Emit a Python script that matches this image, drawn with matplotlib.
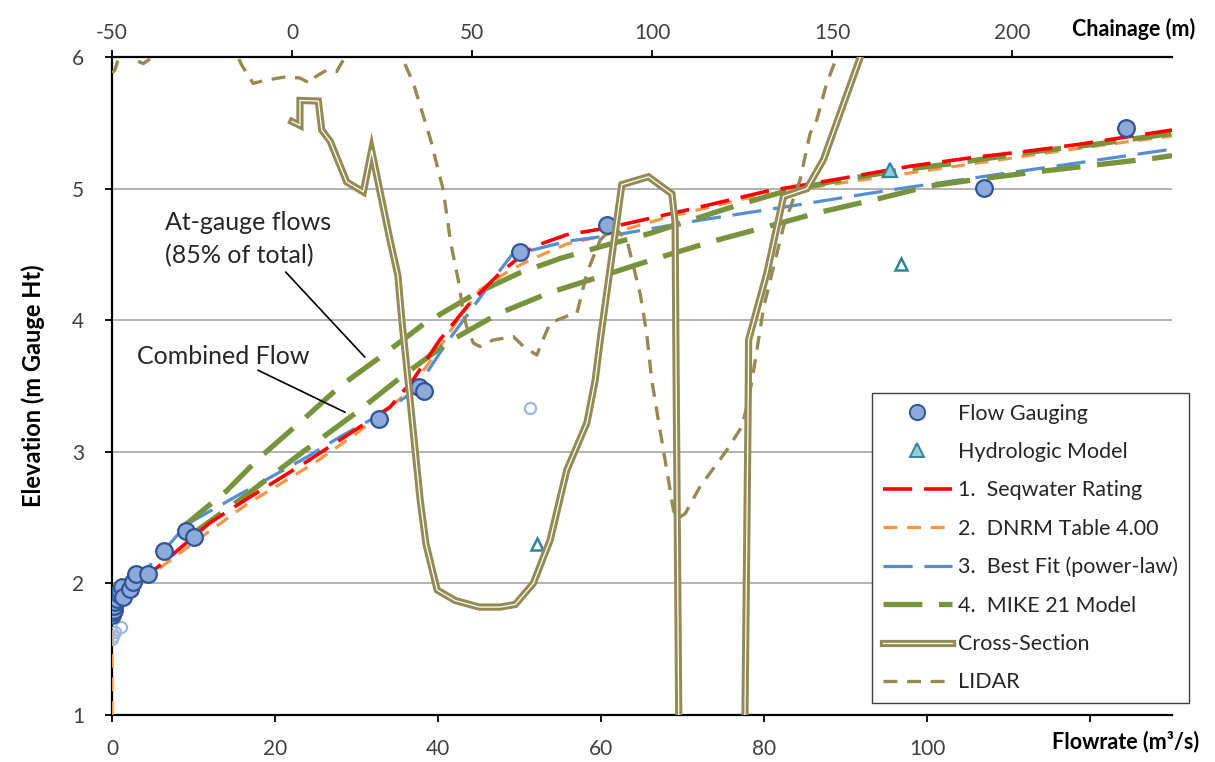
import matplotlib
matplotlib.use('Agg')
import matplotlib.pyplot as plt
from matplotlib.lines import Line2D

plt.rcParams['font.family'] = ['Lato', 'DejaVu Sans']
plt.rcParams['lines.scale_dashes'] = False
plt.rcParams['axes.unicode_minus'] = False

# ---------------- data ----------------
# Flow gauging (filled)
gauge_flow = [0.05, 0.1, 0.2, 0.3, 0.4, 0.6, 0.8, 1.0, 1.2, 1.4, 2.2, 2.6, 2.9, 4.45, 6.4, 9.1, 10.1,
              32.8, 37.6, 38.3, 50.0, 60.7, 107.0, 124.4]
gauge_elev = [1.76, 1.78, 1.80, 1.83, 1.86, 1.88, 1.92, 1.94, 1.97, 1.90, 1.96, 2.01, 2.07, 2.07, 2.25, 2.40, 2.355,
              3.25, 3.495, 3.465, 4.52, 4.72, 5.007, 5.46]
# Flow gauging (excluded / hollow)
gauge_x_flow = [0.05, 0.1, 0.37, 1.07, 51.3]
gauge_x_elev = [1.575, 1.60, 1.63, 1.665, 3.335]
# Hydrologic model
hydro_flow = [95.4]
hydro_elev = [5.14]
hydro2_flow = [96.8, 52.1]
hydro2_elev = [4.425, 2.30]

# 1. Seqwater rating
seq_flow = [0.5, 1, 3, 6.7, 12, 16.5, 23.5, 29.2, 34.1, 36.9, 40.2, 43.9, 47.6, 50, 51.7, 55.8, 60.7,
            72.1, 80.3, 88.4, 97.9, 104.8, 113, 119, 125.2, 130]
seq_elev = [1.75, 1.86, 1.99, 2.18, 2.46, 2.64, 2.91, 3.14, 3.34, 3.545, 3.85, 4.13, 4.36, 4.48, 4.56, 4.65, 4.70,
            4.86, 4.98, 5.065, 5.17, 5.23, 5.29, 5.34, 5.40, 5.445]
# 2. DNRM table
dnrm_flow = [0, 0, 0.5, 2, 5.5, 10.8, 16.5, 24.7, 30, 36.1, 39.4, 42.7, 45.1, 48.8, 51.7, 55.8, 59.8,
             68, 78, 88, 98, 109, 119, 130]
dnrm_elev = [1.0, 1.55, 1.75, 1.92, 2.10, 2.345, 2.60, 2.91, 3.14, 3.44, 3.72, 4.03, 4.23, 4.38, 4.47, 4.58, 4.635,
             4.78, 4.93, 5.03, 5.12, 5.22, 5.31, 5.40]
# 3. Best fit
fit_flow = [0, 1, 2.5, 4.4, 6.5, 9.2, 14.9, 23.9, 28, 32.5, 36.1, 38.6, 41, 44.3, 47.6, 49.2, 51.7, 55.8,
            61.9, 72.1, 84, 92.5, 96.6, 108.9, 121.2, 130]
fit_elev = [1.72, 1.87, 1.99, 2.12, 2.26, 2.45, 2.65, 2.96, 3.115, 3.27, 3.42, 3.60, 3.825, 4.10, 4.38, 4.51, 4.535, 4.60,
            4.65, 4.76, 4.875, 4.96, 5.00, 5.11, 5.22, 5.30]
# 4. MIKE 21 - at-gauge flows
mike_a_flow = [8.5, 14, 18, 23.9, 28, 32.9, 38.2, 44.5, 50, 55, 60, 66, 72, 77, 82, 88, 96.6, 103, 113, 121, 130]
mike_a_elev = [2.42, 2.70, 2.95, 3.27, 3.50, 3.72, 3.97, 4.20, 4.36, 4.47, 4.56, 4.66, 4.78, 4.88, 4.97, 5.05, 5.14,
               5.19, 5.28, 5.34, 5.42]
# 4. MIKE 21 - combined flow
mike_c_flow = [9.5, 16, 23, 30, 35.7, 41.4, 47.4, 53.7, 59.8, 66.8, 73.7, 80.3, 86.8, 93.8, 100.3, 107.3,
               113.8, 120.7, 127.7, 130]
mike_c_elev = [2.36, 2.65, 2.98, 3.30, 3.58, 3.84, 4.05, 4.21, 4.33, 4.47, 4.60, 4.71, 4.82, 4.92, 5.02, 5.08,
               5.13, 5.18, 5.23, 5.25]

# Cross-section (chainage, elevation)
xs_ch = [0, 2.2, 2.2, 7.3, 8.25, 10.6, 15.2, 19.8, 22.1, 27.2, 29.4, 30.5, 32.8, 35.6, 37.2, 40.3, 45.3, 52,
         57.8, 62, 67, 71.7, 76.3, 81.9, 84.2, 85.6, 91.6, 99, 105.5, 106.4, 106.6, 107.4, 107.9,
         125.3, 125.8, 126.75, 126.8, 131.9, 136.5, 143, 147.6, 158.5]
xs_el = [5.51, 5.48, 5.67, 5.665, 5.445, 5.36, 5.05, 4.975, 5.29, 4.61, 4.34, 4.0, 3.39, 2.63, 2.3, 1.95, 1.87, 1.82,
         1.82, 1.84, 2.0, 2.33, 2.86, 3.22, 3.545, 3.85, 5.03, 5.09, 4.96, 4.74, 3.85, 1.0, 0.0,
         0.0, 1.0, 3.55, 3.85, 4.36, 4.94, 5.0, 5.22, 6.05]
# LIDAR (chainage, elevation)
lidar_ch = [-50, -49.2, -47.5, -45, -43, -41.3, -37.6, -35, -20, -14, -10.8, -7, -1.5, 2.2, 5, 5.9, 9.6, 12.4,
            14.7, 18, 28, 30.5, 33.7, 38.5, 42, 44, 46.2, 47.6, 48.5, 50.4, 52.2, 55.9, 61.5, 64.3, 68, 68.9,
            71.7, 76.3, 79.1, 81.9, 85.6, 89.3, 93, 96.7, 98.5, 99.9, 102.2, 104.1, 105.9, 106.9, 109.2, 113.3,
            120.7, 124.9, 126.75, 128.1, 131, 136.5, 141.1, 143.9, 145.7, 148.5, 151.3, 153]
lidar_el = [5.88, 5.90, 6.05, 6.05, 5.97, 5.95, 6.02, 6.1, 6.3, 5.94, 5.80, 5.825, 5.85, 5.84, 5.80, 5.84, 5.90, 5.89,
            6.0, 6.2, 6.2, 6.0, 5.80, 5.37, 4.99, 4.60, 4.30, 4.05, 3.95, 3.825, 3.80, 3.85, 3.875, 3.80, 3.735, 3.80,
            3.98, 4.03, 4.05, 4.36, 4.61, 4.71, 4.61, 4.20, 3.90, 3.545, 3.165, 2.86, 2.56, 2.49, 2.53, 2.735,
            3.01, 3.19, 3.39, 3.60, 4.10, 4.71, 5.065, 5.42, 5.52, 5.80, 6.0, 6.2]

flow_ticks = [0, 20, 40, 60, 80, 100, 120]
flow_ticklabels = ['0', '20', '40', '60', '80', '100', '']
chain_ticks = [-50, 0, 50, 100, 150, 200]
elev_ticks = [1, 2, 3, 4, 5, 6]

labels = ['Flow Gauging', 'Hydrologic Model', '1.  Seqwater Rating', '2.  DNRM Table 4.00',
          '3.  Best Fit (power-law)', '4.  MIKE 21 Model', 'Cross-Section', 'LIDAR']

# ---------------- styles ----------------
C_RED = '#FF0000'
C_ORANGE = '#F79646'
C_BLUE = '#558ED5'
C_GREEN = '#77933C'
C_OLIVE = '#948A54'
C_PT_FILL = '#8EAADB'
C_PT_EDGE = '#2F5597'
C_TRI_FILL = '#92CDDC'
C_TRI_EDGE = '#31859C'
TICK_FS = 15
TITLE_FS = 15.5

W, H = 1215, 762
fig = plt.figure(figsize=(W / 100, H / 100), dpi=100)
L, R, T, B = 112, 1172, 57, 715
ax = fig.add_axes([L / W, 1 - B / H, (R - L) / W, (B - T) / H])
ax.set_xlim(0, 130)
ax.set_ylim(1, 6)

ax.yaxis.grid(True, color='#A6A6A6', lw=1.2)
ax.set_axisbelow(True)

# rating curves
ax.plot(dnrm_flow, dnrm_elev, color=C_ORANGE, lw=2.3, dashes=(10, 7), zorder=3)
ax.plot(fit_flow, fit_elev, color=C_BLUE, lw=2.3, dashes=(21, 8.5), zorder=3)
ax.plot(mike_a_flow, mike_a_elev, color=C_GREEN, lw=3.8, dashes=(28, 12), zorder=3)
ax.plot(mike_c_flow, mike_c_elev, color=C_GREEN, lw=3.8, dashes=(28, 12), zorder=3)
ax.plot(seq_flow, seq_elev, color=C_RED, lw=2.6, dashes=(21, 8.5), zorder=3)

# points
ax.plot(gauge_x_flow, gauge_x_elev, ls='none', marker='o', ms=8, mfc='none', mec='#9DB7DE', mew=1.6, zorder=5)
ax.plot(gauge_flow, gauge_elev, ls='none', marker='o', ms=12, mfc=C_PT_FILL, mec=C_PT_EDGE, mew=1.6, zorder=5)
ax.plot(hydro_flow, hydro_elev, ls='none', marker='^', ms=10, mfc=C_TRI_FILL, mec=C_TRI_EDGE, mew=1.6, zorder=5)
ax.plot(hydro2_flow, hydro2_elev, ls='none', marker='^', ms=9, mfc='white', mec=C_TRI_EDGE, mew=1.8, zorder=5)

ax.set_xticks(flow_ticks)
ax.set_xticklabels(flow_ticklabels)
ax.set_yticks(elev_ticks)
ax.tick_params(axis='both', direction='out', length=5, width=1.3, labelsize=TICK_FS, colors='black',
               labelcolor='#404040')
ax.tick_params(axis='x', pad=12)
ax.tick_params(axis='y', pad=15)
for s in ['top', 'right']:
    ax.spines[s].set_visible(False)
for s in ['left', 'bottom']:
    ax.spines[s].set_linewidth(1.6)

# secondary (chainage) axis
ax2 = ax.twiny()
ax2.set_xlim(-50, 244.4)
ax2.set_ylim(1, 6)
ax2.plot(xs_ch, xs_el, color=C_OLIVE, lw=5.2, solid_joinstyle='miter', zorder=4)
ax2.plot(xs_ch, xs_el, color='white', lw=0.9, zorder=4.1)
ax2.plot(lidar_ch, lidar_el, color=C_OLIVE, lw=2.4, dashes=(10, 7), zorder=4)
ax2.set_xticks(chain_ticks)
ax2.tick_params(axis='x', direction='out', length=5, width=1.3, labelsize=TICK_FS, pad=5, labelcolor='#404040')
for s in ['left', 'right', 'bottom']:
    ax2.spines[s].set_visible(False)
ax2.spines['top'].set_linewidth(1.6)

# axis titles
fig.text(1126 / W, 1 - 742 / H, 'Flowrate (m³/s)', fontsize=TITLE_FS, fontweight='bold', ha='center', va='center')
fig.text(1134 / W, 1 - 29 / H, 'Chainage (m)', fontsize=TITLE_FS, fontweight='bold', ha='center', va='center')
fig.text(33 / W, 1 - 386 / H, 'Elevation (m Gauge Ht)', fontsize=17, fontweight='bold', ha='center',
         va='center', rotation=90)

# annotations
fig.text(165 / W, 1 - 222 / H, 'At-gauge flows', fontsize=18, ha='left', va='center', color='#262626')
fig.text(165 / W, 1 - 256 / H, '(85% of total)', fontsize=18, ha='left', va='center', color='#262626')
fig.text(137 / W, 1 - 356 / H, 'Combined Flow', fontsize=18, ha='left', va='center', color='#262626')
ax.annotate('', xy=(31.0, 3.72), xytext=(21.3, 4.366),
            arrowprops=dict(arrowstyle='-', color='black', lw=1.2, shrinkA=0, shrinkB=0))
ax.annotate('', xy=(28.6, 3.30), xytext=(17.9, 3.62),
            arrowprops=dict(arrowstyle='-', color='black', lw=1.2, shrinkA=0, shrinkB=0))

# legend
h_pt = Line2D([], [], ls='none', marker='o', ms=11, mfc=C_PT_FILL, mec=C_PT_EDGE, mew=1.4)
h_tri = Line2D([], [], ls='none', marker='^', ms=10, mfc=C_TRI_FILL, mec=C_TRI_EDGE, mew=1.4)
h_red = Line2D([], [], color=C_RED, lw=2.6, dashes=(21, 8.5))
h_or = Line2D([], [], color=C_ORANGE, lw=2.3, dashes=(10, 7))
h_bl = Line2D([], [], color=C_BLUE, lw=2.3, dashes=(21, 8.5))
h_gr = Line2D([], [], color=C_GREEN, lw=3.8, dashes=(28, 12))
h_xs = (Line2D([], [], color=C_OLIVE, lw=5.2), Line2D([], [], color='white', lw=0.9))
h_li = Line2D([], [], color=C_OLIVE, lw=2.4, dashes=(10, 7))
leg = ax2.legend([h_pt, h_tri, h_red, h_or, h_bl, h_gr, h_xs, h_li], labels,
                 loc='lower left', bbox_to_anchor=(0.717, 0.018), fontsize=15.5, frameon=True,
                 fancybox=False, framealpha=1, edgecolor='#404040', borderpad=0.5, labelspacing=0.85,
                 handlelength=3.2, handletextpad=0.3, borderaxespad=0, numpoints=1)
leg.get_frame().set_linewidth(1.0)
for t in leg.get_texts():
    t.set_color('#262626')

fig.savefig('out.png', dpi=100)
